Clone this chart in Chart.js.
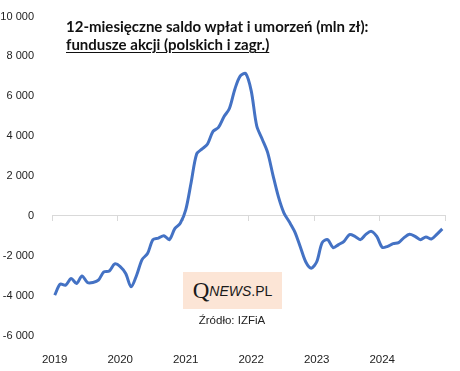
<!DOCTYPE html>
<html>
<head>
<meta charset="utf-8">
<script src="https://cdn.jsdelivr.net/npm/chart.js@4/dist/chart.umd.min.js"></script>
<style>
  html, body { margin: 0; padding: 0; background: #fff; }
  #wrap { position: relative; width: 460px; height: 371px; }
  #title { position: absolute; left: 66px; top: 17px; font: bold 15px Lato, sans-serif; line-height: 18px; color: #111; white-space: nowrap; }
  #title u { text-underline-offset: 2px; }
  #logo { position: absolute; left: 183px; top: 272px; width: 99px; height: 37px; background: #fce5d6;
          display: flex; align-items: center; justify-content: center; color: #1a1a1a; white-space: nowrap; }
  #logo .q { font: 23px "Liberation Serif", serif; }
  #logo .n { font: italic 14px "Liberation Sans", sans-serif; }
  #logo .p { font: 14px "Liberation Sans", sans-serif; }
  #src { position: absolute; left: 182px; width: 100px; top: 314px; text-align: center; font: 11.5px "Liberation Sans", sans-serif; color: #222; }
</style>
</head>
<body>
<div id="wrap">
  <canvas id="c" width="460" height="371"></canvas>
  <div id="title">12-miesięczne saldo wpłat i umorzeń (mln zł):<br><u>fundusze akcji (polskich i zagr.)</u></div>
  <div id="logo"><span class="q">Q</span><span class="n">NEWS</span><span class="p">.PL</span></div>
  <div id="src">Źródło: IZFiA</div>
</div>
<script>
// lata na osi X, miesiące w każdym roku
const YEARS = ['2019', '2020', '2021', '2022', '2023', '2024'];
const MONTHS = ['01', '02', '03', '04', '05', '06', '07', '08', '09', '10', '11', '12'];

// 12-miesięczne saldo (mln zł)
const s2019 = [-3975, -3425, -3475, -3140, -3390, -3010, -3340, -3340, -3225, -2810, -2760, -2410];
const s2020 = [-2540, -2890, -3560, -2975, -2190, -1890, -1190, -1110, -990, -1190, -640, -370];
const s2021 = [300, 1690, 3110, 3360, 3610, 4240, 4440, 4975, 5390, 6360, 7025, 7140];
const s2022 = [6275, 4525, 3860, 3190, 2025, 940, 140, -310, -810, -1560, -2310, -2620];
const s2023 = [-2300, -1340, -1190, -1590, -1440, -1275, -940, -1025, -1190, -925, -775, -1030];
const s2024 = [-1575, -1525, -1390, -1340, -1090, -925, -1025, -1190, -1060, -1160, -925, -650];

const Y_MIN = -6000, Y_MAX = 10000, Y_STEP = 2000;

const labels = YEARS.flatMap((y) => MONTHS.map((m) => y + '-' + m));
const values = [].concat(s2019, s2020, s2021, s2022, s2023, s2024);

const fmtNum = (v) => (v < 0 ? '-' : '') + String(Math.abs(v)).replace(/\B(?=(\d{3})+(?!\d))/g, ' ');

new Chart(document.getElementById('c'), {
  type: 'line',
  data: {
    labels,
    datasets: [{
      data: values, borderColor: '#4472c4', borderWidth: 3, tension: 0.3,
      pointRadius: 0, pointHoverRadius: 0, fill: false, xAxisID: 'x', yAxisID: 'y',
    }],
  },
  options: {
    responsive: false, animation: false,
    layout: { padding: { top: 15, right: 15, bottom: 0, left: 0 } },
    plugins: { legend: { display: false }, tooltip: { enabled: false } },
    scales: {
      // dolna oś: tylko podpisy lat
      x: {
        type: 'category', offset: true,
        grid: { display: false }, border: { display: false },
        afterFit: (s) => { s.height = 35.5; },
        ticks: {
          autoSkip: false, maxRotation: 0, padding: 9, color: '#222',
          font: { family: 'Liberation Sans', size: 11.5 },
          callback: (v, i) => (i % 12 === 0 ? labels[i].slice(0, 4) : ''),
        },
      },
      // oś przy zerze: linia + znaczniki co rok
      x0: {
        type: 'category', offset: true, position: { y: 0 },
        border: { display: true, color: '#d9d9d9', width: 1 },
        grid: {
          offset: true, drawOnChartArea: false, drawTicks: true, tickLength: 5, tickWidth: 1,
          tickColor: (c) => (c.index === undefined || c.index % 12 === 0 ? '#d9d9d9' : 'transparent'),
        },
        ticks: { display: false },
      },
      y: {
        min: Y_MIN, max: Y_MAX,
        grid: { display: false }, border: { display: false },
        afterFit: (s) => { s.width = 52; },
        ticks: {
          stepSize: Y_STEP, padding: 10, color: '#222',
          font: { family: 'Liberation Sans', size: 11 },
          callback: (v) => fmtNum(v),
        },
      },
    },
  },
});
</script>
</body>
</html>
